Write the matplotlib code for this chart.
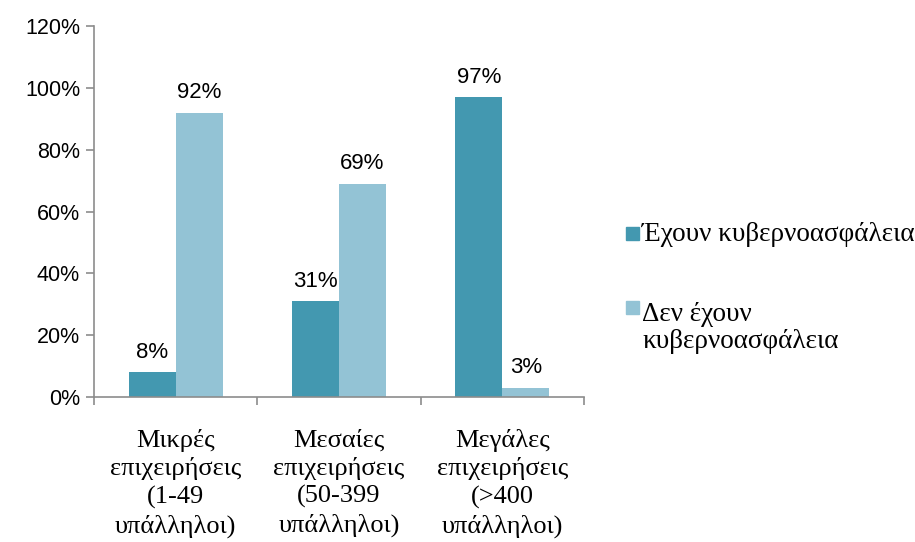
import numpy as np
import matplotlib
matplotlib.use('Agg')
import matplotlib.pyplot as plt
from matplotlib.patches import Rectangle

categories = ['Μικρές\nεπιχειρήσεις\n(1-49\nυπάλληλοι)',
              'Μεσαίες\nεπιχειρήσεις\n(50-399\nυπάλληλοι)',
              'Μεγάλες\nεπιχειρήσεις\n(>400\nυπάλληλοι)']
have_insurance = [8, 31, 97]
no_insurance = [92, 69, 3]
series_names = ['Έχουν κυβερνοασφάλεια', 'Δεν έχουν\nκυβερνοασφάλεια']
colors = ['#4398b0', '#93c3d5']
yticks = [0, 20, 40, 60, 80, 100, 120]

# numbers use the default sans face, category and legend texts the serif one
plt.rcParams['font.family'] = 'Liberation Sans'
serif = 'Liberation Serif'
W, H = 915, 542

fig = plt.figure(figsize=(W / 100, H / 100), dpi=100)
ax = fig.add_axes([0.1027, 0.2675, 0.5355, 0.6845])

x = np.arange(len(categories))
w = 0.288
b1 = ax.bar(x - w / 2, have_insurance, w, color=colors[0])
b2 = ax.bar(x + w / 2, no_insurance, w, color=colors[1])

for bars, vals in ((b1, have_insurance), (b2, no_insurance)):
    for r, v in zip(bars, vals):
        ax.text(r.get_x() + r.get_width() / 2, v + 3, f'{v}%', ha='center', va='bottom',
                fontsize=16, color='black')

ax.set_xlim(-0.5, len(categories) - 0.5)
ax.set_ylim(0, 120)
ax.set_yticks(yticks)
ax.set_yticklabels([f'{t}%' for t in yticks])
ax.tick_params(axis='y', labelsize=15.5, pad=4)

# category ticks sit on the boundaries, labels in the middle
ax.set_xticks(np.arange(-0.5, len(categories), 1))
ax.set_xticklabels([])
ax.set_xticks(x, minor=True)
ax.set_xticklabels(categories, minor=True, family=serif, fontsize=19, linespacing=1.3)
ax.tick_params(axis='x', which='minor', length=0, pad=23)
ax.tick_params(axis='both', which='major', length=6, width=1.2, color='#8c8c8c')

for s in ('top', 'right'):
    ax.spines[s].set_visible(False)
for s in ('left', 'bottom'):
    ax.spines[s].set_color('#8c8c8c')
    ax.spines[s].set_linewidth(1.2)

# legend drawn by hand: square swatch next to the first line of each label
legend_rows = [(227, 241), (301, 317)]  # swatch top, first-line baseline (px from top)
line_step = 31
for (top, base), name, c in zip(legend_rows, series_names, colors):
    fig.add_artist(Rectangle((626 / W, 1 - (top + 13) / H), 13 / W, 13 / H,
                             transform=fig.transFigure, color=c))
    # baseline alignment of a multi-line text sits on its last line
    last_base = base + line_step * name.count('\n')
    fig.text(642 / W, 1 - last_base / H, name, family=serif, fontsize=19.5,
             va='baseline', ha='left', linespacing=1.1)

fig.savefig('out.png', dpi=100)
